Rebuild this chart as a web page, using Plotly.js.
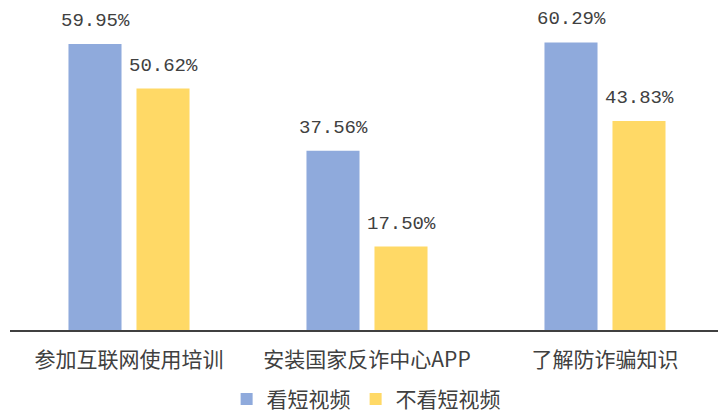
<!DOCTYPE html>
<html><head><meta charset="utf-8">
<script src="https://cdn.plot.ly/plotly-3.0.1.min.js"></script>
<style>html,body{margin:0;padding:0;background:#fff;}#chart{width:718px;height:413px;}</style>
</head><body><div id="chart"></div>
<script>
var categories = ['参加互联网使用培训', '安装国家反诈中心APP', '了解防诈骗知识'];
var seriesNames = ['看短视频', '不看短视频'];
var watchValues = [59.95, 37.56, 60.29];
var noWatchValues = [50.62, 17.50, 43.83];
var colors = ['#8FAADC', '#FFD966'];
var cjk = '"Noto Sans CJK SC", sans-serif';
var series = [watchValues, noWatchValues];

var traces = series.map(function(vals, i){
  return {type:'bar', name: seriesNames[i], x: categories, y: vals,
    marker:{color: colors[i]}, hoverinfo:'none'};
});
var annotations = [];
series.forEach(function(vals, i){
  vals.forEach(function(v, j){
    annotations.push({x: categories[j], y: v, xref:'x', yref:'y',
      text: v.toFixed(2) + '%', showarrow:false, yanchor:'bottom',
      xshift: i === 0 ? -34 : 34, yshift: 10,
      font:{family:'"Liberation Mono", monospace', size:19, color:'#404040'}});
  });
});
var layout = {
  width:718, height:413,
  margin:{l:10, r:0, t:20, b:83, autoexpand:false},
  paper_bgcolor:'#fff', plot_bgcolor:'#fff',
  barmode:'group', bargap:0.4286, bargroupgap:0.22,
  xaxis:{type:'category', range:[-0.5, 2.4748], showline:true, linecolor:'#404040', linewidth:1.5,
    automargin:false, ticks:'', ticklabelstandoff:10,
    tickfont:{family:cjk, size:21, color:'#404040'}, showgrid:false, zeroline:false, fixedrange:true},
  yaxis:{range:[0,65], visible:false, showgrid:false, zeroline:false, fixedrange:true, automargin:false},
  showlegend:true,
  legend:{orientation:'h', x:0.503, xanchor:'center', yref:'container', y:0.033, yanchor:'middle',
    font:{family:cjk, size:21, color:'#404040'}, bgcolor:'rgba(0,0,0,0)'},
  annotations: annotations
};
Plotly.newPlot('chart', traces, layout, {displayModeBar:false, staticPlot:true});
</script></body></html>
